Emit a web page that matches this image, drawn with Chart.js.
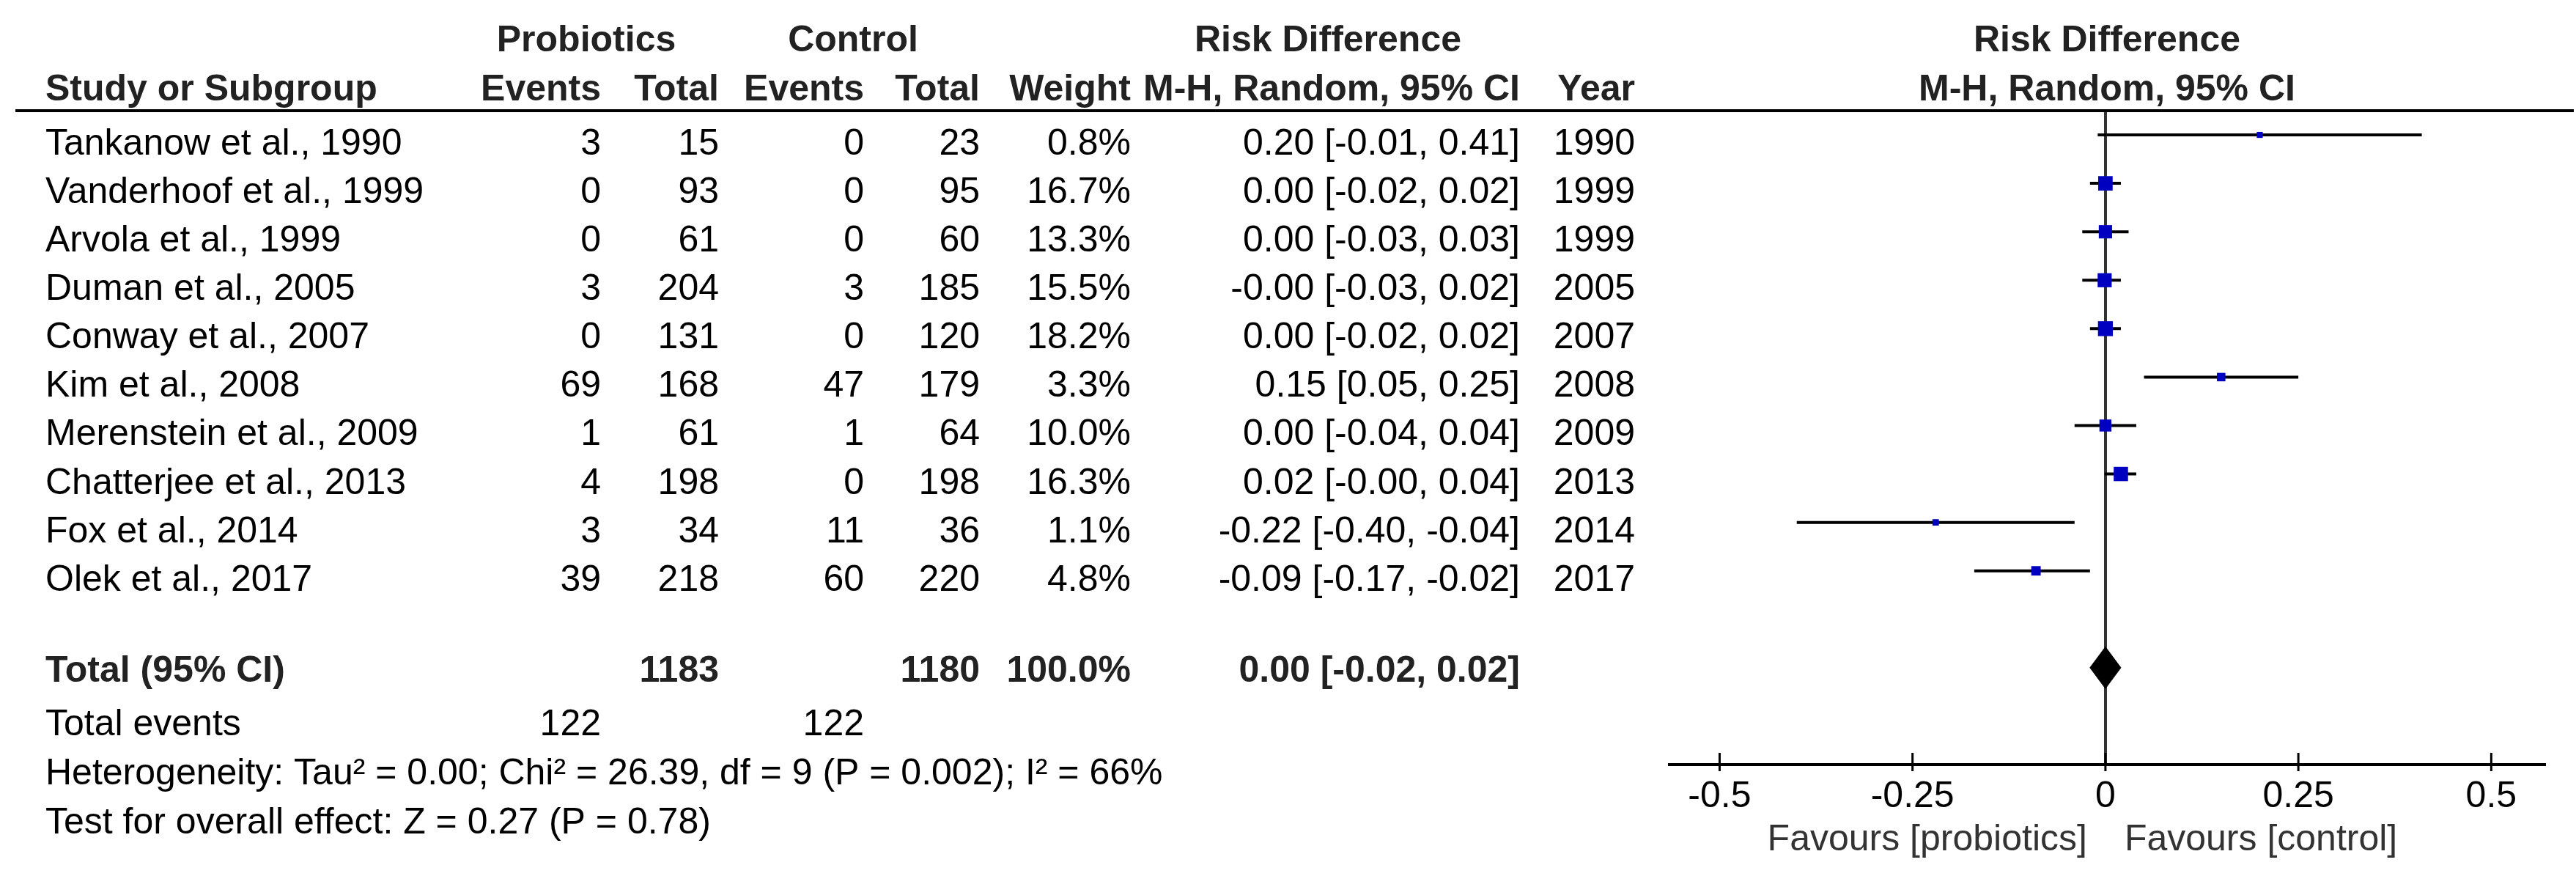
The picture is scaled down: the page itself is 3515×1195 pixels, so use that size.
<!DOCTYPE html>
<html>
<head>
<meta charset="utf-8">
<title>Forest plot - probiotics vs control</title>
<script src="https://cdn.jsdelivr.net/npm/chart.js@4.4.0/dist/chart.umd.min.js"></script>
<style>
  html, body { margin: 0; padding: 0; background: #fff; }
  #forest { display: block; }
</style>
</head>
<body>
<canvas id="forest" width="3515" height="1195"></canvas>
<script>
// study data
const studies = ['Tankanow et al., 1990', 'Vanderhoof et al., 1999', 'Arvola et al., 1999', 'Duman et al., 2005',
    'Conway et al., 2007', 'Kim et al., 2008', 'Merenstein et al., 2009', 'Chatterjee et al., 2013',
    'Fox et al., 2014', 'Olek et al., 2017'];
const probEvents = [3, 0, 0, 3, 0, 69, 1, 4, 3, 39];
const probTotal = [15, 93, 61, 204, 131, 168, 61, 198, 34, 218];
const ctrlEvents = [0, 0, 0, 3, 0, 47, 1, 0, 11, 60];
const ctrlTotal = [23, 95, 60, 185, 120, 179, 64, 198, 36, 220];
const weights = [0.8, 16.7, 13.3, 15.5, 18.2, 3.3, 10.0, 16.3, 1.1, 4.8];
const riskDiff = [0.20, 0.00, 0.00, -0.001, 0.00, 0.15, 0.00, 0.02, -0.22, -0.09];
const ciLow = [-0.01, -0.02, -0.03, -0.03, -0.02, 0.05, -0.04, -0.001, -0.40, -0.17];
const ciHigh = [0.41, 0.02, 0.03, 0.02, 0.02, 0.25, 0.04, 0.04, -0.04, -0.02];
const years = [1990, 1999, 1999, 2005, 2007, 2008, 2009, 2013, 2014, 2017];

// pooled result
const totalProb = 1183;
const totalCtrl = 1180;
const totalEventsProb = 122;
const totalEventsCtrl = 122;
const totalRd = 0.00;
const totalLow = -0.02;
const totalHigh = 0.02;
const heterogeneityText = 'Heterogeneity: Tau\u00B2 = 0.00; Chi\u00B2 = 26.39, df = 9 (P = 0.002); I\u00B2 = 66%';
const overallText = 'Test for overall effect: Z = 0.27 (P = 0.78)';

// axis
const xTicks = [-0.5, -0.25, 0, 0.25, 0.5];
const xTickLabels = ['-0.5', '-0.25', '0', '0.25', '0.5'];

// layout (rows on the y scale, columns in pixels)
const FONT = '"Liberation Sans", Arial, sans-serif';
const totalRow = 12;
const col = { study: 62, pEv: 820, pTot: 981, cEv: 1179, cTot: 1337, weight: 1543, ci: 2074, year: 2231 };

const fmt = v => v.toFixed(2);

function drawText(ctx, s, x, y, align, bold, color) {
    ctx.font = (bold ? 'bold ' : '') + '50px ' + FONT;
    ctx.textAlign = align;
    ctx.textBaseline = 'alphabetic';
    ctx.fillStyle = color || '#000';
    ctx.fillText(s, x, y);
}

// draws the table, header rule, tick marks and the favours labels
const tablePlugin = {
    id: 'forestTable',
    afterDraw(chart) {
        const ctx = chart.ctx;
        const xs = chart.scales.x;
        const ys = chart.scales.y;
        const area = chart.chartArea;
        const mid = (area.left + area.right) / 2;
        const row = r => ys.getPixelForValue(r);
        ctx.save();

        ctx.strokeStyle = '#000';
        ctx.lineWidth = 4;
        ctx.beginPath();
        ctx.moveTo(21, area.top);
        ctx.lineTo(3512, area.top);
        ctx.stroke();

        ctx.lineWidth = 3;
        xs.ticks.forEach((t, i) => {
            const px = xs.getPixelForTick(i);
            ctx.beginPath();
            ctx.moveTo(px, area.bottom - 16);
            ctx.lineTo(px, area.bottom + 9);
            ctx.stroke();
        });

        // headers
        const hc = '#222';
        drawText(ctx, 'Probiotics', 800, 70, 'center', true, hc);
        drawText(ctx, 'Control', 1164, 70, 'center', true, hc);
        drawText(ctx, 'Risk Difference', 1812, 70, 'center', true, hc);
        drawText(ctx, 'Risk Difference', mid, 70, 'center', true, hc);
        drawText(ctx, 'Study or Subgroup', col.study, 137, 'left', true, hc);
        drawText(ctx, 'Events', col.pEv, 137, 'right', true, hc);
        drawText(ctx, 'Total', col.pTot, 137, 'right', true, hc);
        drawText(ctx, 'Events', col.cEv, 137, 'right', true, hc);
        drawText(ctx, 'Total', col.cTot, 137, 'right', true, hc);
        drawText(ctx, 'Weight', col.weight, 137, 'right', true, hc);
        drawText(ctx, 'M-H, Random, 95% CI', col.ci, 137, 'right', true, hc);
        drawText(ctx, 'Year', col.year, 137, 'right', true, hc);
        drawText(ctx, 'M-H, Random, 95% CI', mid, 137, 'center', true, hc);

        // study rows
        studies.forEach((s, i) => {
            const by = row(i + 1) + 27;
            drawText(ctx, s, col.study, by, 'left');
            drawText(ctx, String(probEvents[i]), col.pEv, by, 'right');
            drawText(ctx, String(probTotal[i]), col.pTot, by, 'right');
            drawText(ctx, String(ctrlEvents[i]), col.cEv, by, 'right');
            drawText(ctx, String(ctrlTotal[i]), col.cTot, by, 'right');
            drawText(ctx, weights[i].toFixed(1) + '%', col.weight, by, 'right');
            drawText(ctx, fmt(riskDiff[i]) + ' [' + fmt(ciLow[i]) + ', ' + fmt(ciHigh[i]) + ']', col.ci, by, 'right');
            drawText(ctx, String(years[i]), col.year, by, 'right');
        });

        // total row
        const ty = row(totalRow) + 19;
        drawText(ctx, 'Total (95% CI)', col.study, ty, 'left', true, hc);
        drawText(ctx, String(totalProb), col.pTot, ty, 'right', true, hc);
        drawText(ctx, String(totalCtrl), col.cTot, ty, 'right', true, hc);
        drawText(ctx, '100.0%', col.weight, ty, 'right', true, hc);
        drawText(ctx, fmt(totalRd) + ' [' + fmt(totalLow) + ', ' + fmt(totalHigh) + ']', col.ci, ty, 'right', true, hc);

        const ey = row(totalRow + 1) + 26;
        drawText(ctx, 'Total events', col.study, ey, 'left');
        drawText(ctx, String(totalEventsProb), col.pEv, ey, 'right');
        drawText(ctx, String(totalEventsCtrl), col.cEv, ey, 'right');
        drawText(ctx, heterogeneityText, col.study, row(totalRow + 2) + 27, 'left');
        drawText(ctx, overallText, col.study, row(totalRow + 3) + 28, 'left');

        // favours labels under the axis
        const zero = xs.getPixelForValue(0);
        drawText(ctx, 'Favours [probiotics]', zero - 25, 1160, 'right', false, '#333');
        drawText(ctx, 'Favours [control]', zero + 26, 1160, 'left', false, '#333');

        ctx.restore();
    }
};

// one line per confidence interval
const ciDatasets = studies.map((s, i) => ({
    label: s,
    data: [{ x: ciLow[i], y: i + 1 }, { x: ciHigh[i], y: i + 1 }],
    showLine: true,
    borderColor: '#000',
    borderWidth: 4,
    borderCapStyle: 'butt',
    pointRadius: 0,
    order: 2
}));

const squareDataset = {
    label: 'Estimate',
    data: studies.map((s, i) => ({ x: riskDiff[i], y: i + 1 })),
    pointStyle: 'rect',
    pointRadius: weights.map(w => (2.5 + 1.8 * Math.sqrt(w)) * Math.SQRT2),
    backgroundColor: '#0000C0',
    borderWidth: 0,
    order: 1
};

const diamondHalf = 0.43;
const diamondDataset = {
    label: 'Total',
    data: [
        { x: totalLow, y: totalRow },
        { x: totalRd, y: totalRow - diamondHalf },
        { x: totalHigh, y: totalRow },
        { x: totalRd, y: totalRow + diamondHalf },
        { x: totalLow, y: totalRow }
    ],
    showLine: true,
    fill: 'shape',
    backgroundColor: '#000',
    borderColor: '#000',
    borderWidth: 1,
    pointRadius: 0,
    order: 0
};

new Chart(document.getElementById('forest'), {
    type: 'scatter',
    data: { datasets: [diamondDataset, squareDataset, ...ciDatasets] },
    options: {
        responsive: false,
        animation: false,
        devicePixelRatio: 1,
        layout: { padding: { left: 2278, right: 43, top: 151, bottom: 0 } },
        plugins: { legend: { display: false }, tooltip: { enabled: false } },
        scales: {
            x: {
                type: 'linear',
                min: -0.565,
                max: 0.569,
                afterBuildTicks: s => { s.ticks = xTicks.map(v => ({ value: v })); },
                afterFit: s => { s.height = 152; },
                ticks: {
                    callback: (v, i) => xTickLabels[i],
                    font: { size: 50, family: FONT },
                    color: '#000',
                    padding: 14,
                    maxRotation: 0,
                    autoSkip: false
                },
                grid: {
                    drawTicks: false,
                    lineWidth: 4,
                    color: c => (c.tick && c.tick.value === 0) ? '#333' : 'rgba(0,0,0,0)'
                },
                border: { display: true, color: '#000', width: 4 }
            },
            y: {
                type: 'linear',
                min: 0.5,
                max: 14,
                reverse: true,
                display: false
            }
        }
    },
    plugins: [tablePlugin]
});
</script>
</body>
</html>
